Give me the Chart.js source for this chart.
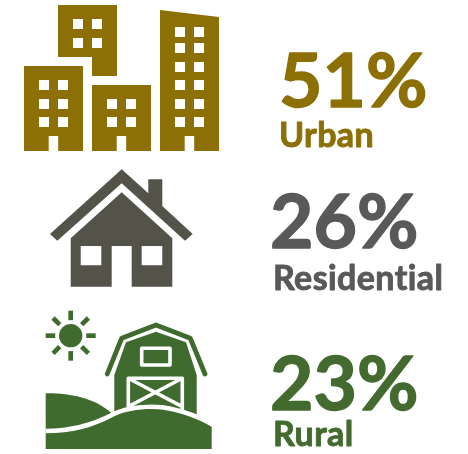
<!DOCTYPE html>
<html>
<head>
<meta charset="utf-8">
<title>Land use</title>
<script src="https://cdn.jsdelivr.net/npm/chart.js@4"></script>
<style>
  html, body { margin: 0; padding: 0; background: #fff; }
  canvas { display: block; }
</style>
</head>
<body>
<canvas id="chart" width="468" height="454"></canvas>
<script>
const categories = ["Urban", "Residential", "Rural"];
const shares = [51, 26, 23];

const iconColors = ["#8c6f05", "#54534a", "#3f6b2f"];
const textColors = ["#8c6f05", "#595959", "#436b30"];

// text placement inside each row
const percentX = [279, 270, 270];
const percentBase = [107, 96.7, 107.3];
const nameX = [279, 273, 273];
const nameBase = [147, 138.7, 143.3];

function poly(ctx, pts) {
  ctx.moveTo(pts[0][0], pts[0][1]);
  for (let i = 1; i < pts.length; i++) ctx.lineTo(pts[i][0], pts[i][1]);
  ctx.closePath();
}

// windows are cut out of the building with evenodd
function drawBuilding(ctx, outline, xs, ys, door) {
  ctx.beginPath();
  poly(ctx, outline);
  xs.forEach(x => ys.forEach(y => ctx.rect(x, y, 10, 10)));
  if (door) ctx.rect(door, 136, 9.5, 15);
  ctx.fill("evenodd");
}

function drawCity(ctx) {
  drawBuilding(ctx, [[58, 5], [117, 5], [117, 76], [92, 76], [92, 57], [58, 57]], [73, 92], [19, 38]);
  drawBuilding(ctx, [[24, 66], [83, 66], [83, 151], [24, 151]], [39, 58], [80, 99, 117], 48.7);
  drawBuilding(ctx, [[92, 85], [151, 85], [151, 151], [92, 151]], [107, 126], [99, 117], 116.7);
  drawBuilding(ctx, [[160, 10], [219, 17], [219, 151], [160, 151]], [175, 194], [27, 43, 62, 80, 99, 117], 184.7);
}

function drawHouse(ctx) {
  ctx.beginPath();
  poly(ctx, [[121.7, 18], [148.3, 42], [148.3, 28], [162.3, 28], [162.3, 54.7], [192.7, 82.7],
    [185, 89.4], [121.7, 32], [57.3, 89.4], [50, 82.7]]);
  ctx.fill();
  ctx.beginPath();
  poly(ctx, [[121.7, 41], [172.3, 87], [172.3, 135.4], [131.7, 135.4], [131.7, 94.7], [111.7, 94.7],
    [111.7, 135.4], [70.7, 135.4], [70.7, 87]]);
  ctx.rect(80.7, 94.7, 20.6, 19.3);
  ctx.rect(141.7, 94.7, 20.6, 19.3);
  ctx.fill("evenodd");
}

function drawBarn(ctx) {
  // sun
  ctx.beginPath();
  ctx.arc(70.7, 33, 11.7, 0, Math.PI * 2);
  ctx.fill();
  ctx.lineWidth = 4.7;
  for (let a = 0; a < 8; a++) {
    const t = a * Math.PI / 4;
    ctx.beginPath();
    ctx.moveTo(70.7 + 15.5 * Math.cos(t), 33 + 15.5 * Math.sin(t));
    ctx.lineTo(70.7 + 25 * Math.cos(t), 33 + 25 * Math.sin(t));
    ctx.stroke();
  }
  // roof band
  ctx.lineWidth = 4.8;
  ctx.lineCap = "round";
  ctx.lineJoin = "round";
  ctx.beginPath();
  ctx.moveTo(107.3, 71.3);
  ctx.lineTo(121.7, 35.6);
  ctx.lineTo(156, 22.3);
  ctx.lineTo(190.3, 35.6);
  ctx.lineTo(205, 71.3);
  ctx.stroke();
  ctx.lineCap = "butt";
  // barn body
  ctx.beginPath();
  poly(ctx, [[114.3, 72.3], [126, 39.6], [156, 29], [186, 39.6], [196.7, 72.3], [196.7, 112], [114.3, 112]]);
  ctx.fill();
  // loft and door in white
  const fill = ctx.fillStyle;
  ctx.strokeStyle = "#fff";
  ctx.lineWidth = 3.6;
  ctx.strokeRect(141.7, 45.6, 28.3, 16.7);
  ctx.beginPath();
  ctx.moveTo(128.3, 112);
  ctx.lineTo(128.3, 75.6);
  ctx.lineTo(182.3, 75.6);
  ctx.lineTo(182.3, 112);
  ctx.moveTo(128.3, 75.6);
  ctx.lineTo(182.3, 104);
  ctx.moveTo(182.3, 75.6);
  ctx.lineTo(128.3, 104);
  ctx.stroke();
  // back hill
  ctx.beginPath();
  ctx.moveTo(45.7, 90.6);
  ctx.bezierCurveTo(70, 90.3, 95, 95.3, 111.7, 110.6);
  ctx.lineTo(111.7, 130);
  ctx.lineTo(45.7, 130);
  ctx.closePath();
  ctx.fill();
  // front hill with a white edge that separates it from the rest
  const hillTop = new Path2D();
  hillTop.moveTo(45.7, 130.6);
  hillTop.bezierCurveTo(72, 130.3, 92, 125.3, 113.3, 114);
  hillTop.bezierCurveTo(128, 106.3, 155, 104.3, 170, 108.3);
  hillTop.bezierCurveTo(185, 111.3, 200, 117.3, 211.7, 124);
  ctx.lineWidth = 9;
  ctx.stroke(hillTop);
  const hill = new Path2D(hillTop);
  hill.lineTo(211.7, 146.3);
  hill.lineTo(45.7, 146.3);
  hill.closePath();
  ctx.fillStyle = fill;
  ctx.fill(hill);
}

const icons = [drawCity, drawHouse, drawBarn];

// fill plus a thin stroke, Lato bold alone is lighter than the original face
function heavyText(ctx, text, x, y, weight) {
  ctx.lineWidth = weight;
  ctx.lineJoin = "round";
  ctx.strokeText(text, x, y);
  ctx.fillText(text, x, y);
}

// icons and the percent / name labels, placed per category from the y scale
const infographic = {
  id: "infographic",
  afterDatasetsDraw(chart) {
    const ctx = chart.ctx;
    const yScale = chart.scales.y;
    const rowH = yScale.height / categories.length;
    categories.forEach((name, i) => {
      const rowTop = yScale.getPixelForValue(i) - rowH / 2;
      ctx.save();
      ctx.translate(0, rowTop);
      ctx.fillStyle = iconColors[i];
      ctx.strokeStyle = iconColors[i];
      icons[i](ctx);
      ctx.restore();

      ctx.save();
      ctx.translate(0, rowTop);
      ctx.fillStyle = textColors[i];
      ctx.strokeStyle = textColors[i];
      ctx.textBaseline = "alphabetic";
      ctx.font = "bold 75px Lato";
      heavyText(ctx, shares[i] + "%", percentX[i], percentBase[i], 1.4);
      ctx.font = "bold 34px Lato";
      ctx.letterSpacing = "0.4px"; // also keeps the "ti" ligature out
      heavyText(ctx, name, nameX[i], nameBase[i], 0.9);
      ctx.restore();
    });
  }
};

new Chart(document.getElementById("chart"), {
  type: "bar",
  data: {
    labels: categories,
    datasets: [{ data: shares, backgroundColor: "rgba(0,0,0,0)", borderWidth: 0 }]
  },
  options: {
    indexAxis: "y",
    responsive: false,
    animation: false,
    events: [],
    layout: { padding: 0 },
    plugins: { legend: { display: false }, tooltip: { enabled: false } },
    scales: {
      x: { display: false, min: 0, max: 100 },
      y: { display: false }
    }
  },
  plugins: [infographic]
});
</script>
</body>
</html>
